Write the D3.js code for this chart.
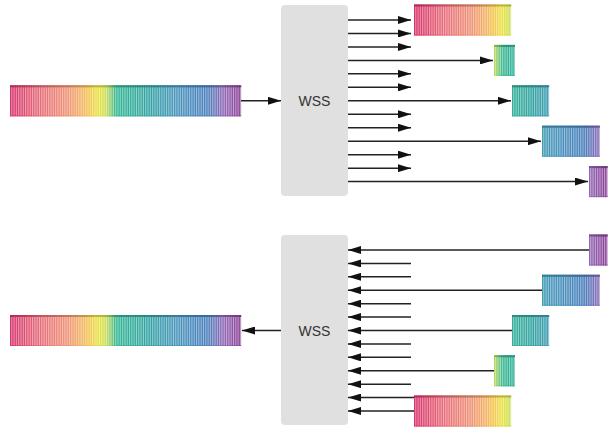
<!DOCTYPE html>
<html><head><meta charset="utf-8">
<script src="https://cdn.jsdelivr.net/npm/d3@7"></script>
<style>body{margin:0;background:#fff}svg{display:block}</style>
</head><body>
<script>
// ---- data ----
const channelCount = 100;                       // wavelength channels in the comb
const segmentChannels = [42, 9, 16, 25, 8];     // channels routed to each output group
const topPorts = [0, 3, 6, 9, 12];              // output port of each group (top WSS)
const bottomPorts = [12, 9, 6, 3, 0];           // input port of each group (bottom WSS)
const groupStart = [414, 494, 512, 542, 589];   // horizontal start of each group's comb
const portCount = 13;
const blockLabel = "WSS";
const colorStops = [0, 0.12, 0.25, 0.33, 0.38, 0.42, 0.46, 0.6, 0.72, 0.86, 0.93, 1];
const colorValues = ["#d8346c", "#e66878", "#ef9474", "#f3bc58", "#ece340", "#c4dc5c",
                     "#34b894", "#34a4a4", "#4896bc", "#4a7fbe", "#9268b6", "#8c4498"];

// ---- layout ----
const W = 609, H = 429;
const svg = d3.select("body").append("svg").attr("width", W).attr("height", H);
const defs = svg.append("defs");
defs.append("marker").attr("id", "arr-end")
  .attr("viewBox", "0 0 13 8").attr("refX", 13).attr("refY", 4)
  .attr("markerWidth", 13).attr("markerHeight", 8).attr("markerUnits", "userSpaceOnUse")
  .attr("orient", "auto")
  .append("path").attr("d", "M0,0 L13,4 L0,8 Z").attr("fill", "#111");

const color = d3.scaleLinear().domain(colorStops).range(colorValues);
const xChan = d3.scaleLinear().domain([0, channelCount]).range([0, 231]);
const inputX = 10, boxX0 = 281, boxX1 = 348, shortEnd = 411, barH = 31;

function drawComb(g, x0, yc, c0, c1) {
  const grp = g.append("g");
  const y0 = yc - barH / 2;
  const chans = d3.range(c0, c1);
  const step = xChan(1) - xChan(0);
  const col = d => color(d / (channelCount - 1));
  grp.selectAll("rect.bg").data(chans).join("rect")
    .attr("x", d => x0 + xChan(d - c0)).attr("y", y0)
    .attr("width", step + 0.2).attr("height", barH)
    .attr("fill", col).attr("opacity", 0.55);
  grp.selectAll("rect.ln").data(chans).join("rect")
    .attr("x", d => x0 + xChan(d - c0)).attr("y", y0)
    .attr("width", 1.2).attr("height", barH)
    .attr("fill", col);
  grp.selectAll("rect.tp").data(chans).join("rect")
    .attr("x", d => x0 + xChan(d - c0)).attr("y", y0)
    .attr("width", step + 0.2).attr("height", 2)
    .attr("fill", d => d3.color(col(d)).darker(0.6));
  grp.selectAll("rect.bt").data(chans).join("rect")
    .attr("x", d => x0 + xChan(d - c0)).attr("y", y0 + barH - 1)
    .attr("width", step + 0.2).attr("height", 1)
    .attr("fill", col).attr("opacity", 0.75);
}

function drawStage(yTop, yBot, portY0, portY1, ports, direction) {
  const g = svg.append("g");
  const yPort = d3.scaleLinear().domain([0, portCount - 1]).range([portY0, portY1]);
  const yMid = yPort((portCount - 1) / 2);
  g.append("rect").attr("x", boxX0).attr("y", yTop).attr("width", boxX1 - boxX0)
    .attr("height", yBot - yTop).attr("rx", 4).attr("fill", "#e0e0e0");
  g.append("text").attr("x", (boxX0 + boxX1) / 2).attr("y", yMid + 5)
    .attr("text-anchor", "middle").attr("font-family", "Liberation Sans, Arial, sans-serif")
    .attr("font-size", 14).attr("fill", "#333").text(blockLabel);
  drawComb(g, inputX, yMid, 0, channelCount);
  const inEnd = inputX + xChan(channelCount);
  const arrow = (x1, x2, y) => g.append("line").attr("x1", x1).attr("x2", x2)
    .attr("y1", y).attr("y2", y).attr("stroke", "#222").attr("stroke-width", 1.5)
    .attr("marker-end", "url(#arr-end)");
  if (direction === "out") arrow(inEnd, boxX0, yMid);
  else arrow(boxX0, inEnd + 1, yMid);

  d3.range(portCount).forEach(p => {
    const y = yPort(p);
    const gi = ports.indexOf(p);
    let far = shortEnd;
    if (direction === "out") {
      if (gi > 0) far = groupStart[gi] - 1;
      arrow(boxX1, far, y);
    } else {
      if (gi >= 0) far = groupStart[gi];
      if (p === portCount - 2) far = groupStart[0];
      arrow(far, boxX1, y);
    }
  });
  let c = 0;
  segmentChannels.forEach((n, i) => {
    drawComb(g, groupStart[i], yPort(ports[i]), c, c + n);
    c += n;
  });
}

drawStage(5, 196, 20, 181.6, topPorts, "out");
drawStage(235, 425, 250, 411, bottomPorts, "in");
</script>
</body></html>
